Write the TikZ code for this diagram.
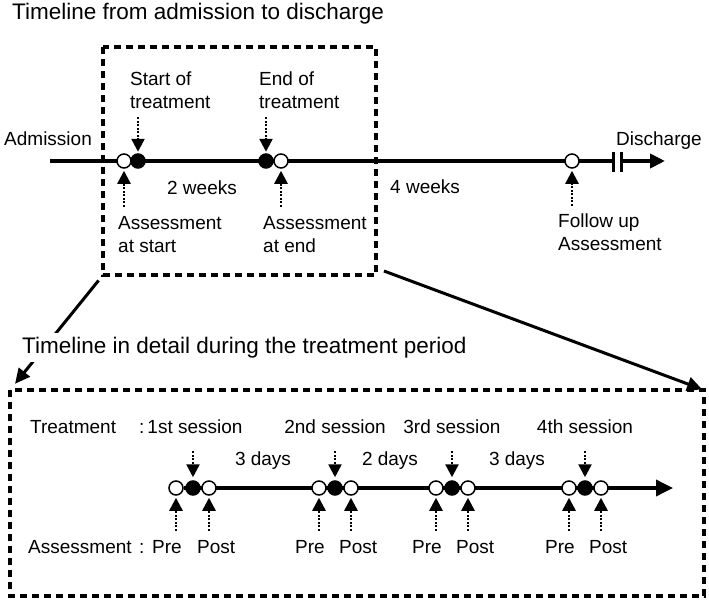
\documentclass[tikz,border=0pt]{standalone}
\usepackage{fontspec}
\setmainfont{Liberation Sans}
\usetikzlibrary{arrows.meta, positioning}

\begin{document}
\begin{tikzpicture}[x=1pt, y=-1pt, >=Triangle,
    txt/.style={inner sep=0pt, font=\fontsize{19}{23}\selectfont, align=left},
    ttl/.style={inner sep=0pt, font=\fontsize{22.5}{26}\selectfont},
    dbox/.style={line width=3.5pt, dash pattern=on 7pt off 5pt},
    tline/.style={line width=4pt, -{Triangle[length=15pt,width=14pt]}},
    lline/.style={line width=3.5pt, -{Triangle[length=17pt,width=16pt]}},
    bigarr/.style={line width=3pt, -{Triangle[length=15pt,width=14pt]}},
    darr/.style={line width=2.5pt, dash pattern=on 2pt off 1.5pt,
                 -{Triangle[length=13pt,width=13pt,sep=0pt]}},
    odot/.style={circle, draw, line width=1.5pt, fill=white,
                 minimum size=14pt, inner sep=0pt},
    fdot/.style={odot, fill=black}]
  \useasboundingbox (0,0) rectangle (709,602);

  % upper part: admission to discharge
  \node[ttl, anchor=base west] (t1) at (12,20) {Timeline from admission to discharge};
  \coordinate (ubnw) at (103,47);
  \coordinate (ubsw) at (103,275);
  \coordinate (ubse) at (376,275);
  \draw[dbox] (ubnw) rectangle (ubse);

  \coordinate (adm) at (50,161);
  \coordinate (dis) at (665,161);
  \draw[tline] (adm) -- (dis);
  \fill[white] (614.5,156) rectangle (619.5,166);
  \draw[line width=3pt] (613,152) -- (613,172) (621,152) -- (621,172);

  \node[odot] (as) at (124,161) {};
  \node[fdot] (ts) at (138,161) {};
  \node[fdot] (te) at (266,161) {};
  \node[odot] (ae) at (281,161) {};
  \node[odot] (fu) at (572,161) {};

  \node[txt, anchor=base west] (adml) at (4,145) {Admission};
  \node[txt, anchor=base west] (disl) at (616,145) {Discharge};
  \node[txt, anchor=base west] (tsl) at (130,108) {Start of\\treatment};
  \node[txt, anchor=base west] (tel) at (259,108) {End of\\treatment};
  \node[txt, anchor=base west] (asl) at (118,252) {Assessment\\at start};
  \node[txt, anchor=base west] (ael) at (263,252) {Assessment\\at end};
  \node[txt, anchor=base west] (ful) at (558,250) {Follow up\\Assessment};
  \node[txt, anchor=base] (w2) at (202,194) {2 weeks};
  \node[txt, anchor=base west] (w4) at (390,193) {4 weeks};

  \draw[darr, shorten >=1.5pt] ([yshift=36pt]ts.north) -- (ts.north);
  \draw[darr, shorten >=1.5pt] ([yshift=36pt]te.north) -- (te.north);
  \draw[darr, shorten >=2pt] ([yshift=-38pt]as.south) -- (as.south);
  \draw[darr, shorten >=2pt] ([yshift=-38pt]ae.south) -- (ae.south);
  \draw[darr, shorten >=2pt] ([yshift=-37pt]fu.south) -- (fu.south);

  % lower part: treatment period in detail
  \coordinate (lbnw) at (10,390);
  \coordinate (lbne) at (704,390);
  \coordinate (lbse) at (704,596);
  \draw[dbox] (lbnw) rectangle (lbse);

  \draw[bigarr, shorten <=7pt, shorten >=8pt] (ubsw) -- (lbnw);
  \draw[bigarr, shorten >=2pt] ([shift={(8,-4)}]ubse) -- (lbne);
  \node[ttl, anchor=base west, fill=white, inner sep=4pt] (t2) at (18,353)
    {Timeline in detail during the treatment period};

  \coordinate (lend) at (673,488);
  \node[odot] (p1) at (176,488) {};
  \draw[lline] (p1) -- (lend);
  \node[fdot] (s1) at (193,488) {};
  \node[odot] (q1) at (209,488) {};
  \node[odot] (p2) at (319,488) {};
  \node[fdot] (s2) at (335,488) {};
  \node[odot] (q2) at (351,488) {};
  \node[odot] (p3) at (436,488) {};
  \node[fdot] (s3) at (452,488) {};
  \node[odot] (q3) at (468,488) {};
  \node[odot] (p4) at (569,488) {};
  \node[fdot] (s4) at (585,488) {};
  \node[odot] (q4) at (601,488) {};

  \node[txt, anchor=base west] (trl) at (30,433) {Treatment};
  \node[txt, anchor=base west] (trc) at (139,433) {:};
  \node[txt, anchor=base] (l1) at (195,433) {1st session};
  \node[txt, anchor=base] (l2) at (335,433) {2nd session};
  \node[txt, anchor=base] (l3) at (452,433) {3rd session};
  \node[txt, anchor=base] (l4) at (585,433) {4th session};
  \node[txt, anchor=base] (d1) at (263,465) {3 days};
  \node[txt, anchor=base] (d2) at (390,465) {2 days};
  \node[txt, anchor=base] (d3) at (517,465) {3 days};

  \node[txt, anchor=base west] (asm) at (28,553) {Assessment};
  \node[txt, anchor=base west] (asc) at (139,553) {:};
  \node[txt, anchor=base east] (pr1) at (182,553) {Pre};
  \node[txt, anchor=base west] (po1) at (197,553) {Post};
  \node[txt, anchor=base east] (pr2) at (325,553) {Pre};
  \node[txt, anchor=base west] (po2) at (339,553) {Post};
  \node[txt, anchor=base east] (pr3) at (442,553) {Pre};
  \node[txt, anchor=base west] (po3) at (456,553) {Post};
  \node[txt, anchor=base east] (pr4) at (575,553) {Pre};
  \node[txt, anchor=base west] (po4) at (589,553) {Post};

  \draw[darr, shorten >=3pt] ([yshift=29pt]s1.north) -- (s1.north);
  \draw[darr, shorten >=3pt] ([yshift=29pt]s2.north) -- (s2.north);
  \draw[darr, shorten >=3pt] ([yshift=29pt]s3.north) -- (s3.north);
  \draw[darr, shorten >=3pt] ([yshift=29pt]s4.north) -- (s4.north);
  \draw[darr, shorten >=2pt] ([yshift=-35pt]p1.south) -- (p1.south);
  \draw[darr, shorten >=2pt] ([yshift=-35pt]q1.south) -- (q1.south);
  \draw[darr, shorten >=2pt] ([yshift=-35pt]p2.south) -- (p2.south);
  \draw[darr, shorten >=2pt] ([yshift=-35pt]q2.south) -- (q2.south);
  \draw[darr, shorten >=2pt] ([yshift=-35pt]p3.south) -- (p3.south);
  \draw[darr, shorten >=2pt] ([yshift=-35pt]q3.south) -- (q3.south);
  \draw[darr, shorten >=2pt] ([yshift=-35pt]p4.south) -- (p4.south);
  \draw[darr, shorten >=2pt] ([yshift=-35pt]q4.south) -- (q4.south);
\end{tikzpicture}
\end{document}
